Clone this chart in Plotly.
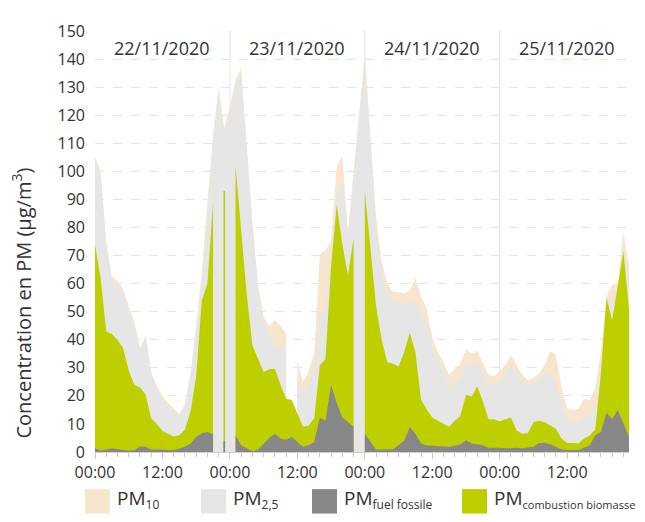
import plotly.graph_objects as go

# ---------------- data (hourly, 22/11/2020 00:00 -> 25/11/2020 23:00) ----------------
hours = list(range(96))

pm10 = [105, 100, 75, 62.5, 61, 58, 52, 46.5, 37, 41.5, 28.5, 23.5, 20, 17.5, 15.5, 13.5,
        17, 28, 45, 64, 89, 113, 130, 115.5,
        123, 132.5, 137, 109, 82, 60, 48, 45, 47, 45, 42, None, 32.5, 25, 28.5, 35.5,
        70.5, 72, 75, 101.5, 105.5, 78.5, 100, 121,
        142, 113, 84, 68, 60, 57, 57, 56.5, 57.5, 62, 55.5, 51, 41, 35.5, 32, 27.5,
        29.5, 31.5, 36.5, 35, 36, 31.5, 27.5, 27,
        29, 31, 34.5, 31, 27.5, 25.5, 26.5, 28, 31, 36, 34.5, 23, 15.5, 15, 15.5, 19,
        18.5, 23, 35.5, 55.5, 59.5, 60, 78.5, 66]

pm25 = [104, 99, 73, 61, 59.5, 56.5, 50.5, 45, 35.5, 41, 28, 22.5, 19, 16, 14.5, 13,
        16.5, 27, 43, 60, 85, 111, 128, 114,
        121, 131, 134.5, 106, 79, 58, 46.5, 41, 38, 37, 36, None, 26, 21.5, 24, 30,
        48.5, 52, 70, 92, 95.5, 77.5, 98, 118,
        139, 110, 80, 64, 56, 54, 53, 52.5, 53.5, 53, 48.5, 46, 38, 33, 29.5, 22.5,
        25, 26, 31, 31, 32.5, 28, 23.5, 24.5,
        25, 28, 31, 28.5, 25, 24, 25, 26, 28.5, 27.5, 25, 17, 11.5, 11, 10.5, 12.5,
        13.5, 15.5, 30, 55, 53, 59, 72, 60]

pm_fossil = [1.3, 0.5, 0.9, 1.3, 1.0, 0.7, 0.5, 0.6, 2.0, 1.9, 0.8, 0.9, 0.9, 0.6, 0.7, 1.2,
             1.9, 3, 5.3, 6.7, 7.1, 6.3, None, 4,
             None, 5.9, 2.4, 1.3, 0.3, 0.8, 3, 5, 6.5, 4.8, 4.4, 5.3, 3.6, 1.9, 2.4, 3.6,
             12.3, 11.1, 23.9, 17.5, 12.3, 10.6, 9, None,
             6.5, 3.5, 0.9, 0.9, 1.0, 1.0, 2.5, 4, 8.8, 6.5, 3, 2.4, 2.2, 2.2, 2.0, 1.9,
             2.2, 2.7, 4.2, 3, 2.8, 2.4, 1.5, 1.6,
             1.5, 1.3, 1.5, 1.5, 1.3, 1.5, 1.9, 3.2, 3.2, 2.8, 1.9, 0.9, 0.7, 0.7, 0.7, 1.5,
             2.4, 5.9, 7.1, 14, 11.7, 15, 10, 5.3]

pm_biomass = [74, 62, 43, 42, 40, 37, 29, 24, 23, 20.5, 12, 10, 7.5, 6.5, 5.5, 6,
              8, 14.5, 27, 54, 60, 89, None, 93,
              None, 102, 79, 56, 38, 33, 28.5, 29.5, 29.7, 24, 19, 18.5, 13.5, 9, 9.4, 12,
              31, 33, 66, 88, 74, 63, 76, None,
              93, 73, 52, 40, 32, 31.5, 30.5, 35.5, 42.5, 35.5, 18.7, 15.2, 12.3, 11.1, 10, 9,
              11.1, 12.9, 20.4, 19.8, 23.3, 18.1, 11.7, 11.7,
              11, 11.7, 12.3, 7.7, 6.5, 6.7, 10.6, 11.1, 10.6, 9.4, 8.2, 4.8, 3.2, 3.2, 3, 4.8,
              5.9, 8, 28, 55, 47, 59, 71.5, 51]

day_labels = ["22/11/2020", "23/11/2020", "24/11/2020", "25/11/2020"]
tick_hours = [0, 12, 24, 36, 48, 60, 72, 84]
tick_text = ["00:00", "12:00", "00:00", "12:00", "00:00", "12:00", "00:00", "12:00"]

legend_main = ["PM", "PM", "PM", "PM"]
legend_sub = ["10", "2,5", "fuel fossile", "combustion biomasse"]

# ---------------- styling ----------------
C_PM10 = "#F6E6CE"
C_PM25 = "#E6E6E6"
C_FOSS = "#878787"
C_BIO = "#BECF00"
TXT = "#333333"
FONT = "Segoe UI, Open Sans, sans-serif"

OFF = 8                      # page offset of the figure (default body margin)
W, H = 645 - OFF, 522 - OFF
PL, PR, PT, PB = 95, 629, 21, 452   # plot-area edges in page pixels
L, T = PL - OFF, PT - OFF
R, B = (645 - OFF) - (PR - OFF), (522 - OFF) - (PB - OFF)
PW, PH = PR - PL, PB - PT


def px(xp):
    return (xp - PL) / PW


def py(yp):
    return (PB - yp) / PH


def segments(xs, ys):
    segs, cur = [], []
    for x, y in zip(xs, ys):
        if y is None:
            if cur:
                segs.append(cur)
                cur = []
        else:
            cur.append((x, y))
    if cur:
        segs.append(cur)
    return segs


fig = go.Figure()

# draw order: PM10, PM2.5, biomass, fossil (overlapping areas, not stacked)
for vals, color in [(pm10, C_PM10), (pm25, C_PM25), (pm_biomass, C_BIO), (pm_fossil, C_FOSS)]:
    for seg in segments(hours, vals):
        xs = [p[0] for p in seg]
        ys = [p[1] for p in seg]
        if len(seg) == 1:
            fig.add_trace(go.Scatter(x=[xs[0], xs[0]], y=[0, ys[0]], mode="lines",
                                     line=dict(color=color, width=1.6),
                                     showlegend=False, hoverinfo="skip"))
        else:
            fig.add_trace(go.Scatter(x=xs, y=ys, mode="lines", fill="tozeroy",
                                     fillcolor=color, line=dict(color=color, width=0),
                                     showlegend=False, hoverinfo="skip"))

shapes = []
annotations = []

# day separators and date labels
for i, lab in enumerate(day_labels):
    if i > 0:
        shapes.append(dict(type="line", xref="x", yref="paper", x0=24 * i, x1=24 * i,
                           y0=0, y1=1, line=dict(color="#E2E2E2", width=1), layer="below"))
    annotations.append(dict(x=24 * i + 12, y=py(38), xref="x", yref="paper", text=lab,
                            showarrow=False, font=dict(size=18, color=TXT, family=FONT),
                            xanchor="center", yanchor="middle"))

# y-axis title
annotations.append(dict(x=px(22), y=py(300), xref="paper", yref="paper",
                        text="Concentration en PM (µg/m<sup>3</sup>)", textangle=-90,
                        showarrow=False, font=dict(size=20, color=TXT, family=FONT),
                        xanchor="center", yanchor="middle"))

# manual legend (swatch + label)
leg_x = [85, 201, 312, 462]
sub_sizes = [12, 12, 12, 11]
for xs0, main, sub, ss, color in zip(leg_x, legend_main, legend_sub, sub_sizes,
                                     [C_PM10, C_PM25, C_FOSS, C_BIO]):
    shapes.append(dict(type="rect", xref="paper", yref="paper",
                       x0=px(xs0), x1=px(xs0 + 25), y0=py(515), y1=py(490),
                       fillcolor=color, line=dict(width=0)))
    annotations.append(dict(x=px(xs0 + 30), y=py(500), xref="paper", yref="paper",
                            text=f"{main}<sub><span style='font-size:{ss}px'>{sub}</span></sub>",
                            showarrow=False, xanchor="left", yanchor="middle",
                            font=dict(size=19, color=TXT, family=FONT)))

fig.update_layout(
    width=W, height=H,
    margin=dict(l=L, r=R, t=T, b=B, pad=0),
    paper_bgcolor="white", plot_bgcolor="white",
    showlegend=False,
    shapes=shapes, annotations=annotations,
    font=dict(family=FONT, color=TXT),
)

fig.update_xaxes(
    range=[0, 95], tickmode="array", tickvals=tick_hours, ticktext=tick_text,
    showgrid=False, zeroline=False, showline=True, linecolor="#D0D0D0", linewidth=1,
    ticks="outside", ticklen=6, tickcolor="#C8C8C8",
    minor=dict(dtick=2, tick0=0, ticks="outside", ticklen=4, tickcolor="#C8C8C8", showgrid=False),
    tickfont=dict(size=16, color=TXT, family=FONT), ticklabelstandoff=0,
)
fig.update_yaxes(
    range=[0, 150], dtick=10, tick0=0, showgrid=True, gridcolor="#E4E4E4",
    griddash="dash", gridwidth=1, zeroline=False, showline=False, ticks="",
    tickfont=dict(size=16, color=TXT, family=FONT), ticklabelstandoff=9,
)

fig.write_html("out.html")
